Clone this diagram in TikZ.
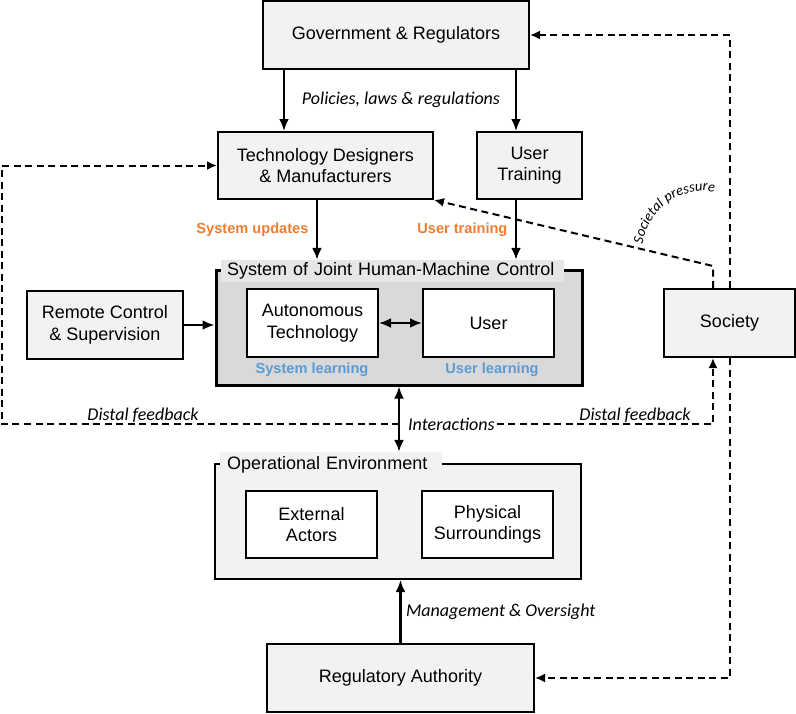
\documentclass[tikz,border=0pt]{standalone}
\usepackage{fontspec}
\setmainfont{Liberation Sans}
\newfontfamily\calfont{Carlito}
\usetikzlibrary{arrows.meta, positioning, calc, decorations.text}
\definecolor{bxgray}{HTML}{F2F2F2}
\definecolor{bxdark}{HTML}{D9D9D9}
\definecolor{bxtitle}{HTML}{E6E6E6}
\definecolor{bxorange}{HTML}{ED7D31}
\definecolor{bxblue}{HTML}{5B9BD5}

\begin{document}
\begin{tikzpicture}[
  x=1pt, y=-1pt,
  every node/.style={font=\fontsize{18}{21.6}\selectfont},
  gbox/.style={rectangle, draw=black, fill=bxgray, line width=2pt, align=center, inner sep=0pt},
  wbox/.style={rectangle, draw=black, fill=white, line width=2pt, align=center, minimum width=131pt, minimum height=68pt, inner sep=0pt},
  sysbox/.style={rectangle, draw=black, fill=bxdark, line width=3pt, minimum width=366pt, minimum height=115pt},
  envbox/.style={rectangle, draw=black, fill=bxgray, line width=2pt, minimum width=366pt, minimum height=115pt},
  ttl/.style={anchor=west, align=left, inner ysep=0pt},
  lbl/.style={font=\calfont\itshape\fontsize{18}{21.6}\selectfont},
  upd/.style={text=bxorange, font=\bfseries\fontsize{14.6}{17.5}\selectfont},
  lrn/.style={text=bxblue, font=\bfseries\fontsize{14.6}{17.5}\selectfont},
  arr/.style={line width=2.5pt, -{Latex[length=12pt, width=10pt]}},
  biarr/.style={line width=2.5pt, {Latex[length=12pt, width=10pt]}-{Latex[length=12pt, width=10pt]}},
  dasharr/.style={line width=2pt, dash pattern=on 7pt off 4.5pt, -{Latex[length=10pt, width=9pt]}},
]
\useasboundingbox (0,0) rectangle (796,713);

% Top layer
\node[gbox, minimum width=266pt, minimum height=68pt] (gov) at (396,35) {Government \& Regulators};
\node[gbox, minimum width=215pt, minimum height=67pt] (tech) at (325.5,165.5) {Technology Designers\\ \& Manufacturers};
\node[gbox, minimum width=105pt, minimum height=67pt] (train) at (529.5,165.5) {User\\Training};

% Joint control system
\node[gbox, minimum width=156pt, minimum height=68pt] (remote) at (105,325) {Remote Control\\ \& Supervision};
\node[sysbox] (sys) at (399,327.5) {};
\node[ttl, fill=bxtitle, minimum height=22pt, text width=331pt, inner xsep=6pt] (systtl) at (221,271) {System of Joint Human-Machine Control};
\node[wbox] (auto) at (312.5,323) {Autonomous\\Technology};
\node[wbox] (user) at (488.5,323) {User};
\node[lrn] (syslrn) at (312,370) {System learning};
\node[lrn] (usrlrn) at (492,370) {User learning};
\node[gbox, minimum width=131pt, minimum height=68pt] (soc) at (729.5,323) {Society};

% Environment and oversight
\node[envbox] (env) at (398,521.5) {};
\node[ttl, fill=bxgray, minimum height=26pt, text width=208pt, inner xsep=7pt] (envttl) at (220,465) {Operational Environment};
\node[wbox, minimum height=67pt] (ext) at (311.5,524.5) {External\\Actors};
\node[wbox, minimum height=67pt] (phys) at (487.5,524.5) {Physical\\Surroundings};
\node[gbox, minimum width=267pt, minimum height=68pt] (reg) at (400.5,678) {Regulatory Authority};

% Solid connections
\draw[arr] ([xshift=-41.5pt]tech.north |- gov.south) -- ([xshift=-41.5pt]tech.north);
\draw[arr] ([xshift=-13.5pt]train.north |- gov.south) -- ([xshift=-13.5pt]train.north);
\node[lbl] (policy) at (401,100) {Policies, laws \& regulations};
\draw[arr] ([xshift=-8.5pt]tech.south) -- ([xshift=-8.5pt]tech.south |- systtl.north)
  node[midway, left=4pt, upd] {System updates};
\draw[arr] ([xshift=-13.5pt]train.south) -- ([xshift=-13.5pt]train.south |- systtl.north)
  node[midway, left=4pt, upd] {User training};
\draw[arr] (remote.east) -- (remote.east -| sys.west);
\draw[biarr] (auto) -- (user);
\draw[biarr] (sys.south) -- (sys.south |- envttl.north);
\draw[arr] (reg.north) -- (reg.north |- env.south)
  node[midway, right=1pt, lbl] {Management \& Oversight};

% Feedback loops
\coordinate (fb) at (399,424);
\coordinate (fbl) at (2,424);
\node[lbl, anchor=west, inner sep=2pt] (inter) at (406,424) {Interactions};
\draw[dasharr] (fb) -- (fbl) |- (tech.west);
\draw[dasharr] (inter.east) -| ([xshift=-16.5pt]soc.south);
\node[lbl, above] (fbleft) at (143,426) {Distal feedback};
\node[lbl, above] (fbright) at (635,426) {Distal feedback};
\draw[dasharr] ([xshift=-16.5pt]soc.north) -- ++(0,-22) -- (tech.south east);
\path[decorate, decoration={text along path, text align=center,
  text={|\calfont\itshape\fontsize{14.5}{17}\selectfont|Societal pressure}}]
  (704,253) ++(186:62) arc[start angle=186, end angle=282, radius=62];
\draw[dasharr] (soc.north) |- (gov.east);
\draw[dasharr] (soc.south) |- (reg.east);

\end{tikzpicture}
\end{document}
